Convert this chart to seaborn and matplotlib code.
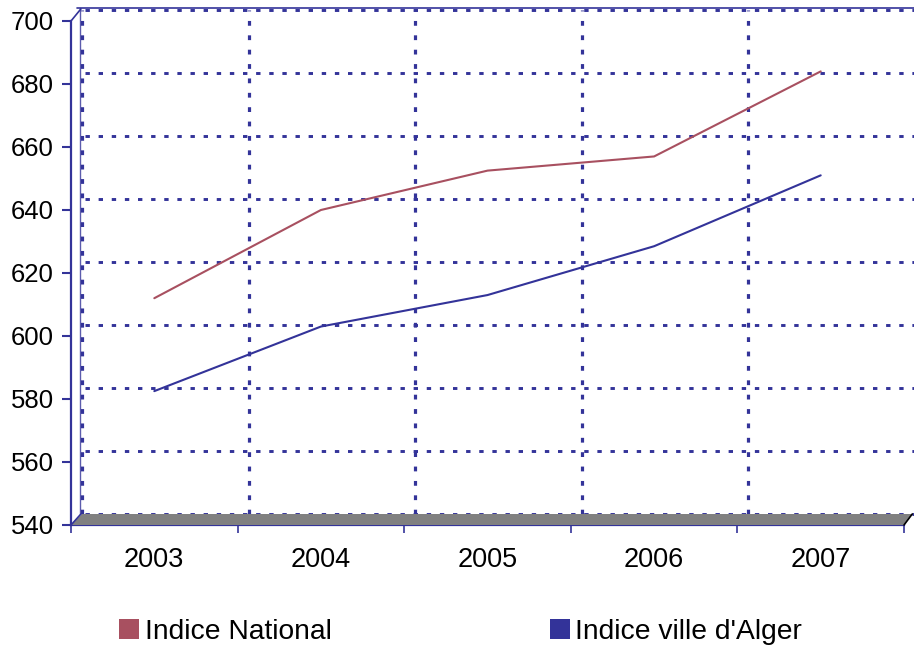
import numpy as np
import pandas as pd
import matplotlib
matplotlib.use("Agg")
import matplotlib.pyplot as plt
import matplotlib.transforms as mtransforms
from matplotlib.patches import Polygon
from matplotlib.lines import Line2D
import seaborn as sns

years = ["2003", "2004", "2005", "2006", "2007"]
national = [612, 640, 652.5, 657, 684]
alger = [582.5, 603, 613, 628.5, 651]
series_names = ["Indice National", "Indice ville d'Alger"]
y_ticks = [540, 560, 580, 600, 620, 640, 660, 680, 700]

NAVY = "#333399"
RED = "#A85060"

sns.set_style("white")
plt.rcParams["font.family"] = ["Liberation Sans", "DejaVu Sans"]
plt.rcParams["text.color"] = "black"
plt.rcParams["xtick.labelcolor"] = "black"
plt.rcParams["ytick.labelcolor"] = "black"

W, H = 914, 650
fig = plt.figure(figsize=(W / 100, H / 100), dpi=100)
L, R, T, B = 71, 904, 21, 525
ax = fig.add_axes([L / W, 1 - B / H, (R - L) / W, (B - T) / H])
ax.set_xlim(0, len(years))
ax.set_ylim(y_ticks[0], y_ticks[-1])

df = pd.DataFrame({
    "pos": np.tile(np.arange(len(years)) + 0.5, 2),
    "value": national + alger,
    "serie": [series_names[0]] * len(years) + [series_names[1]] * len(years),
})

# back plane offset
off = mtransforms.ScaledTranslation(0.11, 0.11, fig.dpi_scale_trans)
back = ax.transData + off

# floor
dx, dy = 11 / W, 11 / H
x0, y0 = L / W, 1 - B / H
x1 = R / W
floor = Polygon([(x0, y0), (x0 + dx, y0 + dy), (x1 + dx * 0.75, y0 + dy), (x1, y0)],
                closed=True, transform=fig.transFigure, facecolor="#808080",
                edgecolor="none", zorder=0.5)
fig.patches.append(floor)
fig.add_artist(Line2D([x1, x1 + dx * 0.75], [y0, y0 + dy], transform=fig.transFigure,
                      color="black", lw=1.2))
# left wall diagonals
yt = 1 - T / H
fig.add_artist(Line2D([x0, x0 + dx * 0.9], [yt, yt + dy * 1.1], transform=fig.transFigure,
                      color=NAVY, lw=1.2))
fig.add_artist(Line2D([x0, x0 + dx * 0.9], [y0, y0 + dy], transform=fig.transFigure,
                      color=NAVY, lw=1.2))

dot = (0, (1.5, 3.0))
for v in y_ticks:
    ax.plot([0.02, len(years)], [v, v], transform=back, color=NAVY, lw=2.1,
            ls=dot, clip_on=False, zorder=1)
for i in range(0, len(years)):
    ax.plot([i, i], [y_ticks[0], y_ticks[-1]], transform=back, color=NAVY, lw=2.3,
            ls=dot, clip_on=False, zorder=1)
# solid back outline (top + left)
ax.plot([-0.03, len(years)], [y_ticks[-1] + 0.7, y_ticks[-1] + 0.7], transform=back,
        color=NAVY, lw=1.2, clip_on=False, zorder=1)
ax.plot([-0.014, -0.014], [y_ticks[0], y_ticks[-1] + 0.7], transform=back,
        color=NAVY, lw=1.0, alpha=0.8, clip_on=False, zorder=1)

sns.lineplot(data=df, x="pos", y="value", hue="serie",
             palette={series_names[0]: RED, series_names[1]: NAVY},
             legend=False, ax=ax, lw=1.5, zorder=3)

for s in ["top", "right"]:
    ax.spines[s].set_visible(False)
for s in ["left", "bottom"]:
    ax.spines[s].set_color(NAVY)
    ax.spines[s].set_linewidth(1.6)

ax.set_yticks(y_ticks)
ax.set_yticklabels([str(v) for v in y_ticks], fontsize=18.5)
ax.tick_params(axis="y", direction="out", length=6.5, width=1.5, color=NAVY,
               pad=6, left=True)
ax.set_xticks(range(0, len(years) + 1))
ax.set_xticklabels([])
ax.tick_params(axis="x", which="major", direction="out", length=6, width=1.2,
               color=NAVY, bottom=True)
ax.set_xticks(np.arange(len(years)) + 0.5, minor=True)
ax.set_xticklabels(years, minor=True, fontsize=19.5)
ax.tick_params(axis="x", which="minor", length=0, pad=16)
ax.set_xlabel("")
ax.set_ylabel("")
ax.patch.set_alpha(0)

handles = [Line2D([], [], marker="s", ls="", markersize=14.4, markeredgewidth=0,
                  color=c) for c in (RED, NAVY)]
fig.legend(handles, series_names, loc="center left",
           bbox_to_anchor=(119 / W, 1 - 632 / H), ncol=2, frameon=False,
           fontsize=20.3, handlelength=0.72, handletextpad=0.2, columnspacing=7.72,
           borderpad=0, borderaxespad=0)

fig.savefig("out.png", dpi=100)
